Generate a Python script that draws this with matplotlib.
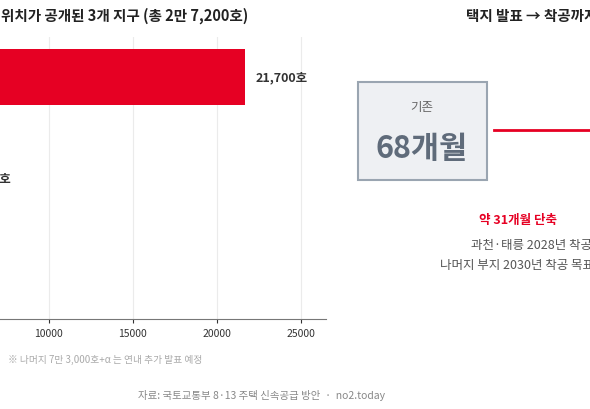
import matplotlib.pyplot as plt
from matplotlib.patches import Rectangle

plt.rcParams['font.family'] = ['Noto Sans CJK KR', 'DejaVu Sans']

districts = ['태릉', '과천', '경마장']
homes = [21700, 4500, 1000]
bar_colors = ['#E60023', '#B8BFC8', '#B8BFC8']
xticks = [0, 5000, 10000, 15000, 20000, 25000]

fig = plt.figure(figsize=(5.9, 4.1), dpi=100)
W, H = 590, 410

def fx(px):
    return px / W

def fy(py):
    return 1 - py / H

# left panel: bar chart, partly outside the figure on the left
ax = fig.add_axes([fx(-119), fy(320), fx(445), 282 / H])
ypos = list(range(len(districts)))
ax.barh(ypos, homes, height=0.56, color=bar_colors, zorder=3)
for y, v in zip(ypos, homes):
    ax.text(v + 600, y, f'{v:,}호', va='center', ha='left',
            fontsize=9, fontweight='bold', color='#333333')
ax.set_xlim(0, 26500)
ax.set_ylim(2.4, -0.4)
ax.set_xticks(xticks)
ax.set_yticks(ypos)
ax.set_yticklabels(districts)
ax.tick_params(axis='x', labelsize=7.5, colors='#333333', length=3)
ax.tick_params(axis='y', length=0)
ax.grid(axis='x', color='#EBEBEB', lw=0.8, zorder=0)
for s in ['top', 'right', 'left']:
    ax.spines[s].set_visible(False)
ax.spines['bottom'].set_color('#777777')

fig.text(fx(248), fy(16), '택지 위치가 공개된 3개 지구 (총 2만 7,200호)',
         ha='right', va='center', fontsize=10.5, fontweight='bold', color='#222222')
fig.text(fx(8), fy(360), '※ 나머지 7만 3,000호+α 는 연내 추가 발표 예정',
         ha='left', va='center', fontsize=7, color='#AAAAAA')

# right panel: timeline comparison
fig.text(fx(466), fy(16), '택지 발표 → 착공까지 걸리는 기간',
         ha='left', va='center', fontsize=10.5, fontweight='bold', color='#222222')
fig.patches.append(Rectangle((fx(358), fy(181)), fx(129), 98 / H,
                             transform=fig.transFigure, facecolor='#EEF0F3',
                             edgecolor='#9AA5B1', lw=1.5))
fig.text(fx(422), fy(108), '기존', ha='center', va='center',
         fontsize=9, color='#666666')
fig.text(fx(422), fy(149), '68개월', ha='center', va='center',
         fontsize=22, fontweight='bold', color='#5F6B7A')
fig.add_artist(plt.Line2D([fx(494), fx(600)], [fy(131), fy(131)],
                          transform=fig.transFigure, color='#E60023', lw=2))
fig.text(fx(479), fy(221), '약 31개월 단축', ha='left', va='center',
         fontsize=9, fontweight='bold', color='#E60023')
fig.text(fx(471), fy(246), '과천·태릉 2028년 착공 목표', ha='left', va='center',
         fontsize=9, color='#555555')
fig.text(fx(440), fy(266), '나머지 부지 2030년 착공 목표', ha='left', va='center',
         fontsize=9, color='#555555')

fig.text(fx(261), fy(396), '자료: 국토교통부 8·13 주택 신속공급 방안  ·  no2.today',
         ha='center', va='center', fontsize=7.5, color='#888888')

fig.savefig('out.png', dpi=100, facecolor='white')
